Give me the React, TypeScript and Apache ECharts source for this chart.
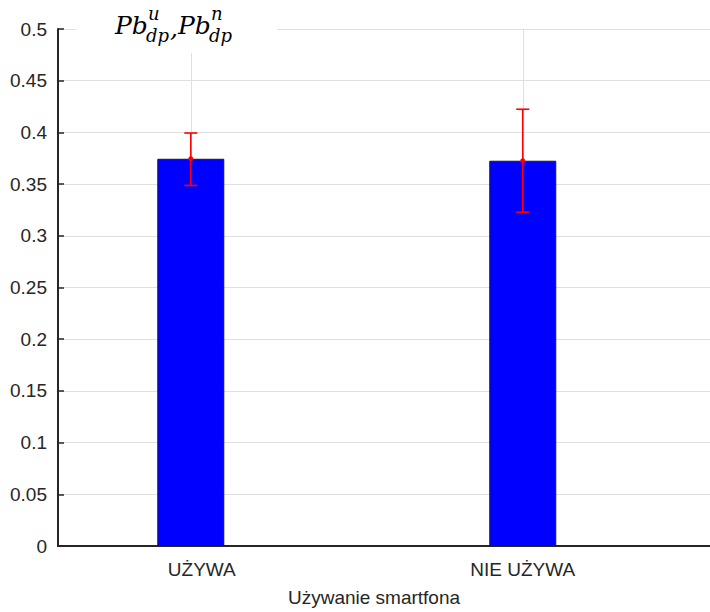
import React, { useEffect, useRef } from "react";
import * as echarts from "echarts";

const categories = ["UŻYWA", "NIE UŻYWA"];
const categoryPos = [1, 2];
const meanValues = [0.3745, 0.3726];
const errLow = [0.3487, 0.3228];
const errHigh = [0.3994, 0.4224];
const yTicks = { min: 0, max: 0.5, interval: 0.05 };
const xLabel = "Używanie smartfona";

const AX = "#262626";
const GRIDC = "#dfdfdf";

export default function App() {
  const ref = useRef<HTMLDivElement>(null);
  useEffect(() => {
    if (!ref.current) return;
    const chart = echarts.init(ref.current, null, { renderer: "svg" });
    const barData = categoryPos.map((x, i) => [x, meanValues[i]]);
    const errData = categoryPos.map((x, i) => [x, errLow[i], errHigh[i], meanValues[i]]);
    const titleFont = "DejaVu Serif";
    const tx = (text: string, x: number, y: number, size: number) => ({
      type: "text",
      x,
      y,
      z: 101,
      style: {
        text,
        fontFamily: titleFont,
        fontStyle: "italic",
        fontSize: size,
        fill: "#000",
        verticalAlign: "middle",
      },
    });
    chart.setOption({
      animation: false,
      backgroundColor: "#fff",
      grid: { left: 58, right: 0, top: 29, bottom: 61, containLabel: false },
      xAxis: {
        type: "value",
        min: 0.6,
        max: 2.564,
        splitLine: { show: false },
        axisTick: { show: false },
        axisLine: { show: true, onZero: false, lineStyle: { color: AX, width: 2 } },
        axisLabel: {
          customValues: categoryPos,
          margin: 14,
          color: AX,
          fontFamily: "Liberation Sans",
          fontSize: 19,
          formatter: (v: number) => {
            const i = categoryPos.indexOf(v);
            if (i < 0) return "";
            return i === 0 ? "{a|" + categories[i] + "}" : "{b|" + categories[i] + "}";
          },
          rich: {
            a: { fontFamily: "Liberation Sans", fontSize: 19, color: AX, padding: [0, 0, 0, 22] },
            b: { fontFamily: "Liberation Sans", fontSize: 19, color: AX },
          },
        },
        name: xLabel,
        nameLocation: "middle",
        nameGap: 42,
        nameTextStyle: {
          color: AX,
          fontFamily: "Liberation Sans",
          fontSize: 19,
          padding: [0, 20, 0, 0],
        },
      },
      yAxis: {
        type: "value",
        min: yTicks.min,
        max: yTicks.max,
        interval: yTicks.interval,
        axisLine: { show: true, lineStyle: { color: AX, width: 2 } },
        axisTick: { show: true, inside: true, length: 6, lineStyle: { color: AX, width: 1.5 } },
        axisLabel: {
          margin: 11,
          color: AX,
          fontFamily: "Liberation Sans",
          fontSize: 19,
          formatter: (v: number) => String(+v.toFixed(2)),
        },
        splitLine: { show: true, lineStyle: { color: GRIDC, width: 1 } },
      },
      series: [
        {
          type: "bar",
          data: barData,
          barWidth: 67,
          z: 2,
          itemStyle: { color: "#0000ff", borderColor: "#1a1a1a", borderWidth: 1 },
          markLine: {
            silent: true,
            z: 1,
            symbol: ["none", "none"],
            label: { show: false },
            lineStyle: { color: GRIDC, width: 1, type: "solid" },
            data: categoryPos.map((x) => ({ xAxis: x })),
          },
        },
        {
          type: "custom",
          z: 3,
          data: errData,
          renderItem: (params: any, api: any) => {
            const x = api.value(0);
            const pLo = api.coord([x, api.value(1)]);
            const pHi = api.coord([x, api.value(2)]);
            const pM = api.coord([x, api.value(3)]);
            const cap = 6.5;
            const st = { stroke: "#ff0000", lineWidth: 1.6 };
            return {
              type: "group",
              children: [
                { type: "line", shape: { x1: pHi[0], y1: pHi[1], x2: pLo[0], y2: pLo[1] }, style: st },
                { type: "line", shape: { x1: pHi[0] - cap, y1: pHi[1], x2: pHi[0] + cap, y2: pHi[1] }, style: st },
                { type: "line", shape: { x1: pLo[0] - cap, y1: pLo[1], x2: pLo[0] + cap, y2: pLo[1] }, style: st },
                { type: "circle", shape: { cx: pM[0], cy: pM[1], r: 2.5 }, style: { fill: "#ff0000" } },
              ],
            };
          },
        },
      ],
      graphic: [
        { type: "rect", z: 100, shape: { x: 76, y: 0, width: 201, height: 53 }, style: { fill: "#fff" } },
        tx("Pb", 115, 25, 25),
        tx("u", 148, 13, 18),
        tx("dp", 146, 35, 18),
        tx(",", 170, 28, 25),
        tx("Pb", 178, 25, 25),
        tx("n", 211, 13, 18),
        tx("dp", 209, 35, 18),
      ],
    });
    return () => chart.dispose();
  }, []);
  return (
    <div
      ref={ref}
      style={{ position: "fixed", left: 0, top: 0, width: 710, height: 612 }}
    />
  );
}
